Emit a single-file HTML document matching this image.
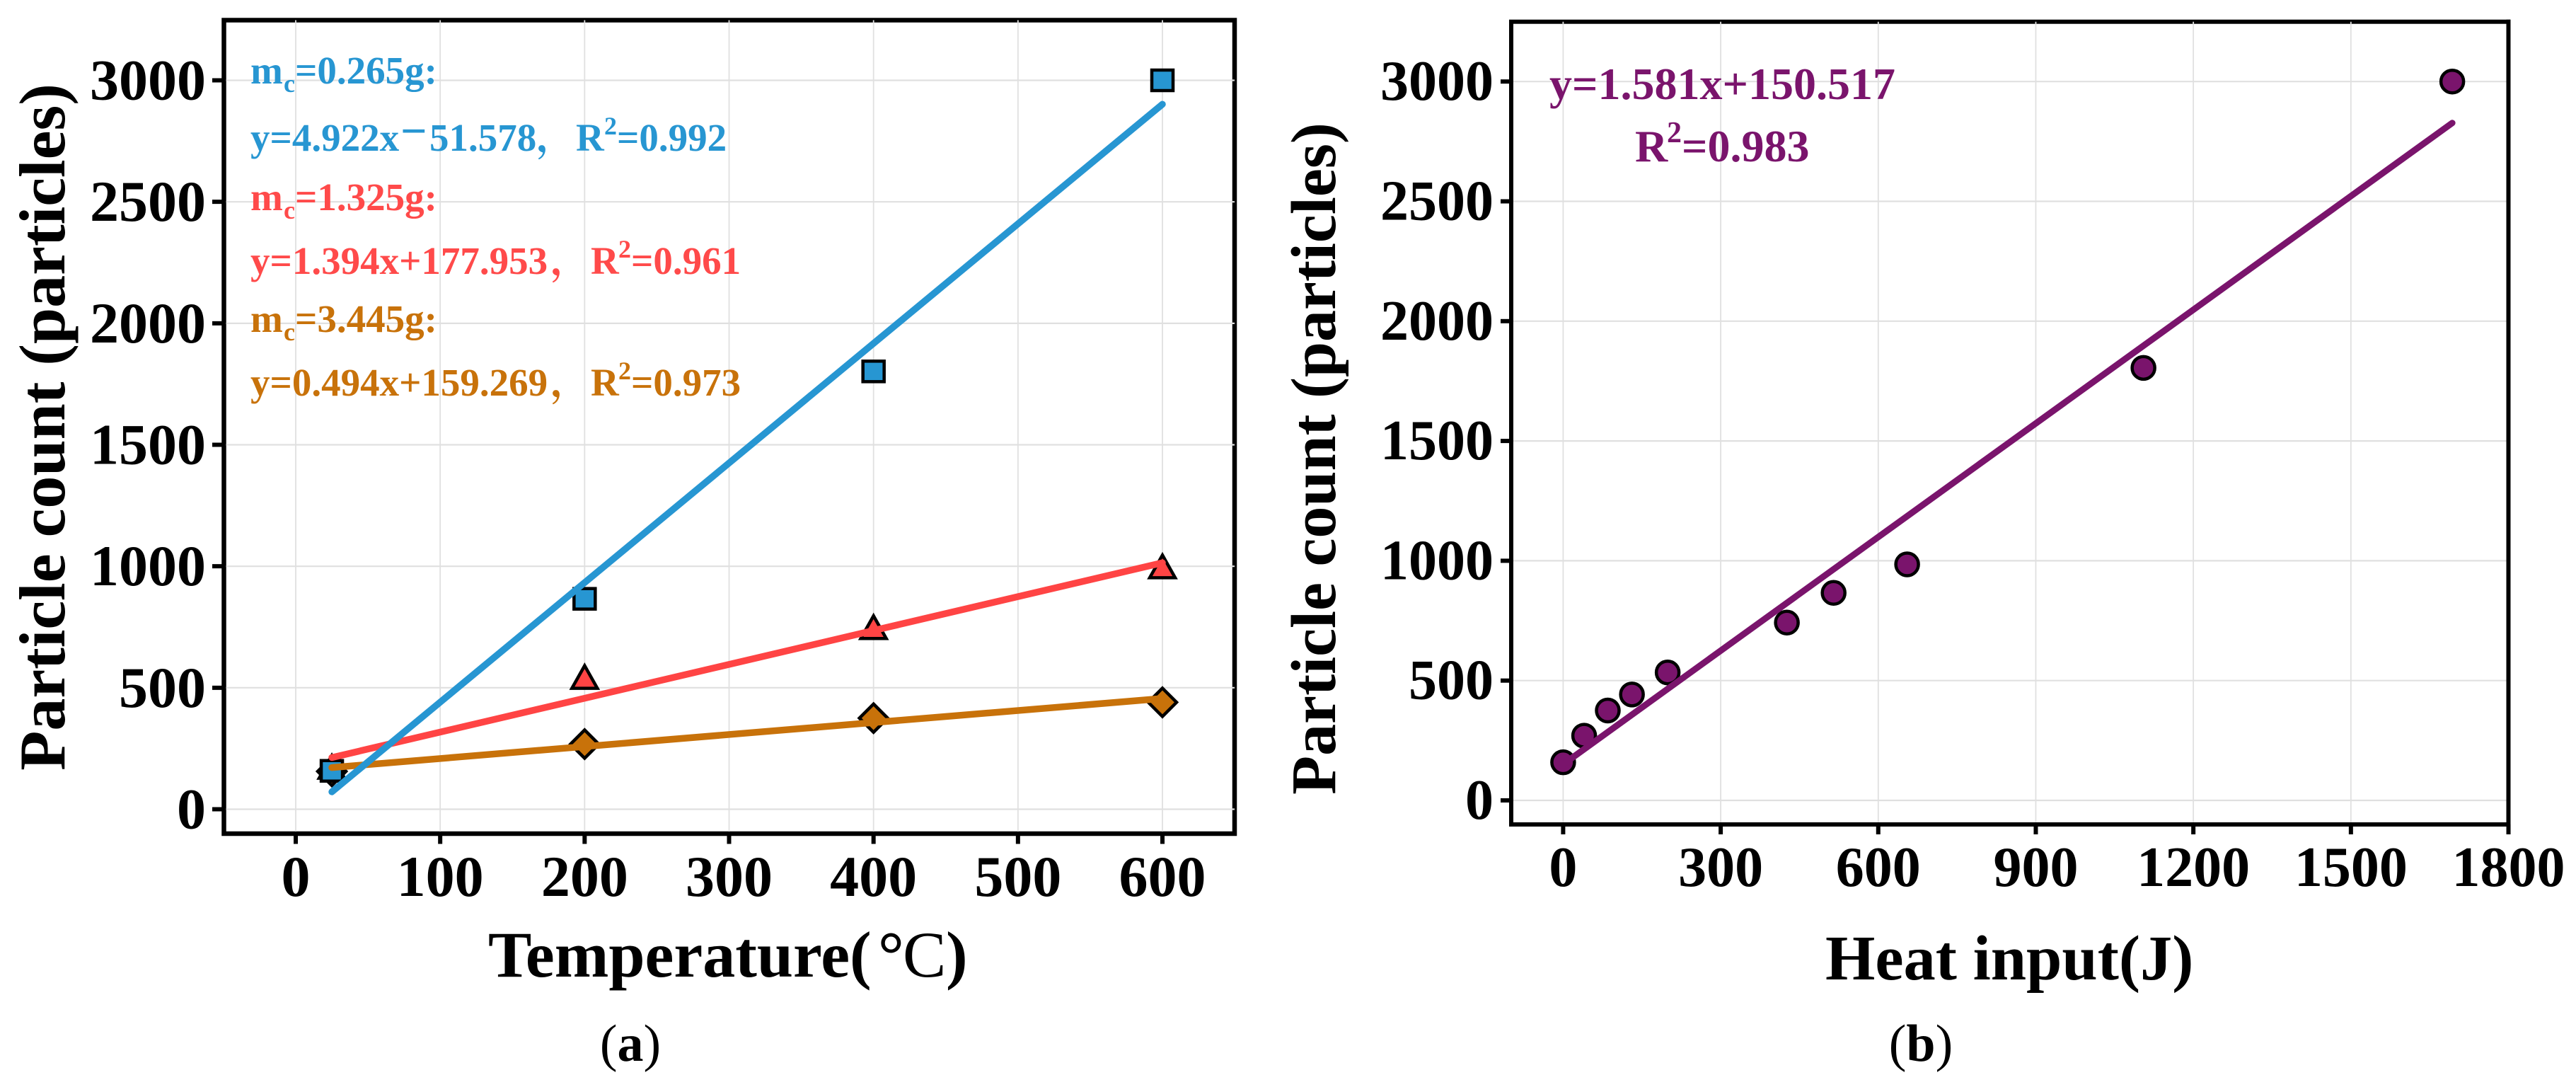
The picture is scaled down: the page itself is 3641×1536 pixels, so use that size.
<!DOCTYPE html>
<html lang="en">
<head>
<meta charset="utf-8">
<title>Particle count charts</title>
<style>
html,body{margin:0;padding:0;background:#fff}
svg{display:block}
text{font-family:"Liberation Serif","Noto Serif CJK SC",serif;font-weight:700;fill:#000}
.tick{font-size:82px}
.tickb{font-size:80px}
.note{font-size:55px}
.noteb{font-size:64px}
</style>
</head>
<body>
<svg id="figure" xmlns="http://www.w3.org/2000/svg" width="3641" height="1536" viewBox="0 0 3641 1536">
  <rect x="0" y="0" width="3641" height="1536" fill="#ffffff"/>
  <g id="panelA"></g>
  <g id="panelB"></g>

  <g>
    <text class="note" style="fill:#2796d2" y="118"><tspan x="354">m</tspan><tspan x="401" y="130" font-size="36">c</tspan><tspan x="417" y="118">=0.265g:</tspan></text>
    <text class="note" style="fill:#2796d2" y="213"><tspan x="354">y=4.922x</tspan><tspan x="566" y="207" font-size="66">−</tspan><tspan x="607" y="213">51.578</tspan><tspan x="758">，</tspan><tspan x="814">R</tspan><tspan x="854" y="190" font-size="36">2</tspan><tspan x="872" y="213">=0.992</tspan></text>
    <text class="note" style="fill:#ff4a4a" y="297"><tspan x="354">m</tspan><tspan x="401" y="309" font-size="36">c</tspan><tspan x="417" y="297">=1.325g:</tspan></text>
    <text class="note" style="fill:#ff4a4a" y="387"><tspan x="354">y=1.394x+177.953</tspan><tspan x="778">，</tspan><tspan x="835">R</tspan><tspan x="874" y="364" font-size="36">2</tspan><tspan x="892" y="387">=0.961</tspan></text>
    <text class="note" style="fill:#c8720a" y="469"><tspan x="354">m</tspan><tspan x="401" y="481" font-size="36">c</tspan><tspan x="417" y="469">=3.445g:</tspan></text>
    <text class="note" style="fill:#c8720a" y="559"><tspan x="354">y=0.494x+159.269</tspan><tspan x="778">，</tspan><tspan x="835">R</tspan><tspan x="874" y="536" font-size="36">2</tspan><tspan x="892" y="559">=0.973</tspan></text>
  </g>

  <g>
    <text class="noteb" style="fill:#7a146c" x="2190" y="140">y=1.581x+150.517</text>
    <text class="noteb" style="fill:#7a146c" y="228"><tspan x="2311">R</tspan><tspan x="2356" y="201" font-size="42">2</tspan><tspan x="2377" y="228">=0.983</tspan></text>
  </g>

  <text font-size="92" text-anchor="middle" transform="translate(91 603.5) rotate(-90)">Particle count (particles)</text>
  <text font-size="90" text-anchor="middle" transform="translate(1887 648) rotate(-90)">Particle count (particles)</text>
  <text font-size="92" x="690" y="1380">Temperature(<tspan x="1241">°</tspan><tspan x="1276" style="font-weight:400">C</tspan><tspan x="1337">)</tspan></text>
  <text font-size="90.5" x="2580" y="1384">Heat input(J)</text>
  <text font-size="74" text-anchor="middle" x="891" y="1499" style="font-weight:400">(<tspan style="font-weight:700">a</tspan>)</text>
  <text font-size="74" text-anchor="middle" x="2715" y="1499" style="font-weight:400">(<tspan style="font-weight:700">b</tspan>)</text>
</svg>

<script>
// Panel (a) data
const yTickValues = [0, 500, 1000, 1500, 2000, 2500, 3000];
const tempTickValues = [0, 100, 200, 300, 400, 500, 600];
const temperatures = [25, 200, 400, 600];
const countsSmallMass = [158, 866, 1802, 3000];
const countsMediumMass = [165, 535, 740, 990];
const countsLargeMass = [156, 268, 375, 440];
const fitTemperatures = [25, 600];
const fitSmallMass = [71.5, 2901.6];
const fitMediumMass = [212.8, 1014.4];
const fitLargeMass = [171.6, 455.7];

// Panel (b) data
const heatTickValues = [0, 300, 600, 900, 1200, 1500, 1800];
const heatInputs = [0, 40, 85, 131, 199, 426, 515, 655, 1105, 1693];
const heatCounts = [159, 270, 375, 442, 534, 742, 866, 985, 1805, 3000];
const fitHeatInputs = [0, 1693];
const fitHeatCounts = [150.5, 2827];

const NS = 'http://www.w3.org/2000/svg';
const panelA = document.getElementById('panelA');
const panelB = document.getElementById('panelB');

function xA(v) { return 418 + 2.0417 * v; }
function yA(v) { return 1143.5 - 0.34333 * v; }
function xB(v) { return 2209.4 + 0.7423 * v; }
function yB(v) { return 1131 - 0.3386 * v; }

function make(tag, parent) {
  const el = document.createElementNS(NS, tag);
  parent.appendChild(el);
  return el;
}
function setLine(el, x1, y1, x2, y2, color, width, cap) {
  el.setAttribute('x1', x1);
  el.setAttribute('y1', y1);
  el.setAttribute('x2', x2);
  el.setAttribute('y2', y2);
  el.setAttribute('stroke', color);
  el.setAttribute('stroke-width', width);
  el.setAttribute('stroke-linecap', cap || 'butt');
}
function setMarkerStyle(el, color) {
  el.setAttribute('fill', color);
  el.setAttribute('stroke', '#000');
  el.setAttribute('stroke-width', 4.5);
  el.setAttribute('stroke-linejoin', 'miter');
}

const GRID = '#e0e0e0';
const BLUE = '#2796d2';
const RED = '#ff4444';
const ORANGE = '#c8720a';
const PURPLE = '#7a146c';

// ---------- Panel A ----------
const A = { left: 316.5, right: 1745, top: 28.5, bottom: 1178 };

const frameA = make('rect', panelA);


frameA.setAttribute('x', A.left);
frameA.setAttribute('y', A.top);
frameA.setAttribute('width', A.right - A.left);
frameA.setAttribute('height', A.bottom - A.top);
frameA.setAttribute('fill', '#fff');
frameA.setAttribute('stroke', '#000');
frameA.setAttribute('stroke-width', 6.5);

yTickValues.forEach(function (v) {
  const grid = make('line', panelA);
  
  
  setLine(grid, A.left + 3, yA(v), A.right, yA(v), GRID, 2.2);
  const tick = make('line', panelA);
  
  
  setLine(tick, 300, yA(v), A.left, yA(v), '#000', 6);
  const label = make('text', panelA);
  
  
  label.setAttribute('class', 'tick');
  label.setAttribute('text-anchor', 'end');
  label.setAttribute('x', 291);
  label.setAttribute('y', yA(v) + 27);
  label.textContent = String(v);
});

tempTickValues.forEach(function (v) {
  const grid = make('line', panelA);
  
  
  setLine(grid, xA(v), A.top, xA(v), A.bottom - 3, GRID, 1.8);
  const tick = make('line', panelA);
  
  
  setLine(tick, xA(v), A.bottom, xA(v), 1192.5, '#000', 6);
  const label = make('text', panelA);
  
  
  label.setAttribute('class', 'tick');
  label.setAttribute('text-anchor', 'middle');
  label.setAttribute('x', xA(v));
  label.setAttribute('y', 1266);
  label.textContent = String(v);
});

temperatures.forEach(function (t, i) {
  const cx = xA(t);
  const cy = yA(countsLargeMass[i]);
  const el = make('path', panelA);
  
  
  el.setAttribute('d', 'M' + cx + ' ' + (cy - 20) + 'L' + (cx + 20) + ' ' + cy + 'L' + cx + ' ' + (cy + 20) + 'L' + (cx - 20) + ' ' + cy + 'Z');
  setMarkerStyle(el, ORANGE);
});

temperatures.forEach(function (t, i) {
  const cx = xA(t);
  const cy = yA(countsMediumMass[i]);
  const el = make('path', panelA);
  
  
  el.setAttribute('d', 'M' + cx + ' ' + (cy - 19.2) + 'L' + (cx + 18) + ' ' + (cy + 12.8) + 'L' + (cx - 18) + ' ' + (cy + 12.8) + 'Z');
  setMarkerStyle(el, RED);
});

temperatures.forEach(function (t, i) {
  const el = make('rect', panelA);
  
  
  el.setAttribute('x', xA(t) - 15);
  el.setAttribute('y', yA(countsSmallMass[i]) - 14.5);
  el.setAttribute('width', 30);
  el.setAttribute('height', 29);
  setMarkerStyle(el, BLUE);
});

const fitRed = make('line', panelA);


setLine(fitRed, xA(fitTemperatures[0]), yA(fitMediumMass[0]), xA(fitTemperatures[1]), yA(fitMediumMass[1]), RED, 9.5, 'round');

const fitOrange = make('line', panelA);


setLine(fitOrange, xA(fitTemperatures[0]), yA(fitLargeMass[0]), xA(fitTemperatures[1]), yA(fitLargeMass[1]), ORANGE, 9.5, 'round');

const fitBlue = make('line', panelA);


setLine(fitBlue, xA(fitTemperatures[0]), yA(fitSmallMass[0]), xA(fitTemperatures[1]), yA(fitSmallMass[1]), BLUE, 9.5, 'round');

// ---------- Panel B ----------
const B = { left: 2136, right: 3545.5, top: 30.7, bottom: 1165 };

const frameB = make('rect', panelB);


frameB.setAttribute('x', B.left);
frameB.setAttribute('y', B.top);
frameB.setAttribute('width', B.right - B.left);
frameB.setAttribute('height', B.bottom - B.top);
frameB.setAttribute('fill', '#fff');
frameB.setAttribute('stroke', '#000');
frameB.setAttribute('stroke-width', 6);

yTickValues.forEach(function (v) {
  const grid = make('line', panelB);
  
  
  setLine(grid, B.left + 3, yB(v), B.right - 1, yB(v), GRID, 2.2);
  const tick = make('line', panelB);
  
  
  setLine(tick, 2121, yB(v), B.left, yB(v), '#000', 6);
  const label = make('text', panelB);
  
  
  label.setAttribute('class', 'tickb');
  label.setAttribute('text-anchor', 'end');
  label.setAttribute('x', 2111);
  label.setAttribute('y', yB(v) + 26);
  label.textContent = String(v);
});

heatTickValues.forEach(function (v) {
  const grid = make('line', panelB);
  
  
  setLine(grid, xB(v), B.top, xB(v), B.bottom - 3, GRID, 1.8);
  const tick = make('line', panelB);
  
  
  setLine(tick, xB(v), B.bottom, xB(v), 1179, '#000', 6);
  const label = make('text', panelB);
  
  
  label.setAttribute('class', 'tickb');
  label.setAttribute('text-anchor', 'middle');
  label.setAttribute('x', xB(v));
  label.setAttribute('y', 1252);
  label.textContent = String(v);
});

const rightEdgeB = make('line', panelB);


setLine(rightEdgeB, B.right, B.top - 3, B.right, B.bottom + 3, '#000', 6);

heatInputs.forEach(function (h, i) {
  const el = make('circle', panelB);
  
  
  el.setAttribute('cx', xB(h));
  el.setAttribute('cy', yB(heatCounts[i]));
  el.setAttribute('r', 16);
  setMarkerStyle(el, PURPLE);
});

const fitPurple = make('line', panelB);


setLine(fitPurple, xB(fitHeatInputs[0]), yB(fitHeatCounts[0]), xB(fitHeatInputs[1]), yB(fitHeatCounts[1]), PURPLE, 9, 'round');
</script>
</body>
</html>
